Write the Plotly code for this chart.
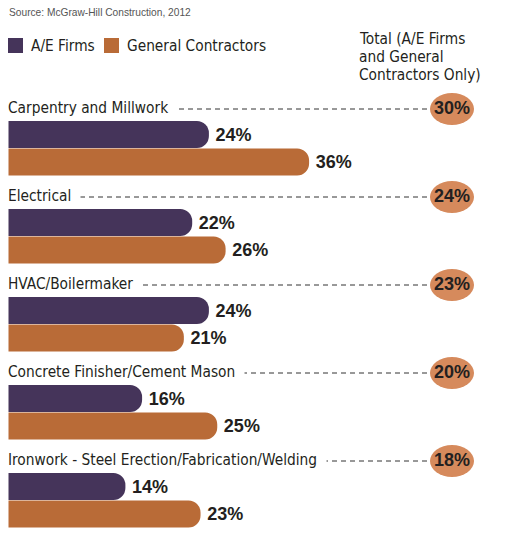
import plotly.graph_objects as go

# ---------------- data ----------------
categories = ["Carpentry and Millwork", "Electrical", "HVAC/Boilermaker",
              "Concrete Finisher/Cement Mason",
              "Ironwork - Steel Erection/Fabrication/Welding"]
ae_firms = [24, 22, 24, 16, 14]
general_contractors = [36, 26, 21, 25, 23]
totals = [30, 24, 23, 20, 18]
series_names = ["A/E Firms", "General Contractors"]
source_text = "Source: McGraw-Hill Construction, 2012"
total_header = ["Total (A/E Firms", "and General", "Contractors Only)"]

# ---------------- style / layout ----------------
W, H = 507, 545
PURPLE = "#45345a"
ORANGE = "#b96b37"
CIRCLE = "#d68a5c"
DARK = "#231f20"
COND = "DejaVu Sans Condensed, Liberation Sans Narrow, Arial Narrow, sans-serif"
COND_SIZE = 15.3
BOLD = "Liberation Sans, Arial, sans-serif"

X0 = 8.5        # pixel of value 0
PX_PER = 8.35   # pixels per percent
def px2x(p):
    return (p - X0) / PX_PER
def pxx(p):
    return p / W
def pxy(p):
    return 1 - p / H

n = len(categories)
label_y = [108 + 88 * i for i in range(n)]
ae_y = [y + 26.5 for y in label_y]
gc_y = [y + 54 for y in label_y]
BAR_H = 27
TOTAL_X = px2x(452)

fig = go.Figure()
for vals, ys, col, name in [(ae_firms, ae_y, PURPLE, series_names[0]),
                            (general_contractors, gc_y, ORANGE, series_names[1])]:
    fig.add_trace(go.Bar(
        x=vals, y=ys, orientation="h", width=BAR_H, name=name,
        marker=dict(color=col, line=dict(width=0), cornerradius=12),
        text=[f"\u2009{v}%" for v in vals], textposition="outside",
        textfont=dict(family=BOLD, size=18, color=DARK, weight="bold"),
        constraintext="none", cliponaxis=False, showlegend=False,
        hoverinfo="skip"))

# total values
fig.add_trace(go.Scatter(
    x=[TOTAL_X] * n, y=[y + 1 for y in label_y], mode="text",
    text=[f"{v}%" for v in totals],
    textfont=dict(family=BOLD, size=18, color=DARK, weight="bold"),
    showlegend=False, hoverinfo="skip", cliponaxis=False))

shapes = []
annotations = []
for i, cat in enumerate(categories):
    # dashed leader line
    shapes.append(dict(type="line", xref="x", yref="y",
                       x0=px2x(8), x1=px2x(432), y0=label_y[i] + 1, y1=label_y[i] + 1,
                       line=dict(color="#333333", width=1, dash="5px,4px"),
                       layer="below"))
    # total ellipse
    shapes.append(dict(type="circle", xref="x", yref="y",
                       xsizemode="pixel", ysizemode="pixel",
                       xanchor=TOTAL_X, yanchor=label_y[i] + 1,
                       x0=-22, x1=22, y0=-16, y1=16,
                       fillcolor=CIRCLE, line=dict(width=0), layer="below"))
    annotations.append(dict(xref="paper", yref="paper", x=pxx(7), y=pxy(label_y[i]),
                            xanchor="left", yanchor="middle", showarrow=False,
                            text=cat + "\u00a0\u00a0", bgcolor="white", borderpad=0,
                            font=dict(family=COND, size=COND_SIZE, color=DARK)))

# legend
for sx, tx, col, name in [(8, 29, PURPLE, series_names[0]),
                          (104, 125, ORANGE, series_names[1])]:
    shapes.append(dict(type="rect", xref="paper", yref="paper",
                       x0=pxx(sx), x1=pxx(sx + 15), y0=pxy(38), y1=pxy(53),
                       fillcolor=col, line=dict(width=0)))
    annotations.append(dict(xref="paper", yref="paper", x=pxx(tx), y=pxy(46),
                            xanchor="left", yanchor="middle", showarrow=False,
                            text=name, font=dict(family=COND, size=COND_SIZE, color=DARK)))

annotations.append(dict(xref="paper", yref="paper", x=pxx(7), y=pxy(12),
                        xanchor="left", yanchor="middle", showarrow=False,
                        text=source_text,
                        font=dict(family="Liberation Sans, Arial, sans-serif", size=10.2, color="#555555")))
for j, line in enumerate(total_header):
    annotations.append(dict(xref="paper", yref="paper", x=pxx(357), y=pxy(39 + 18 * j),
                            xanchor="left", yanchor="middle", showarrow=False,
                            text=line, font=dict(family=COND, size=COND_SIZE, color=DARK)))

fig.update_layout(
    width=W, height=H, margin=dict(l=0, r=0, t=0, b=0),
    paper_bgcolor="white", plot_bgcolor="white",
    xaxis=dict(range=[px2x(0), px2x(W)], visible=False, fixedrange=True),
    yaxis=dict(range=[H, 0], visible=False, fixedrange=True),
    shapes=shapes, annotations=annotations, showlegend=False,
    barmode="overlay")

fig.write_html("out.html", post_script="document.body.style.margin='0';",
               config={"displayModeBar": False})
